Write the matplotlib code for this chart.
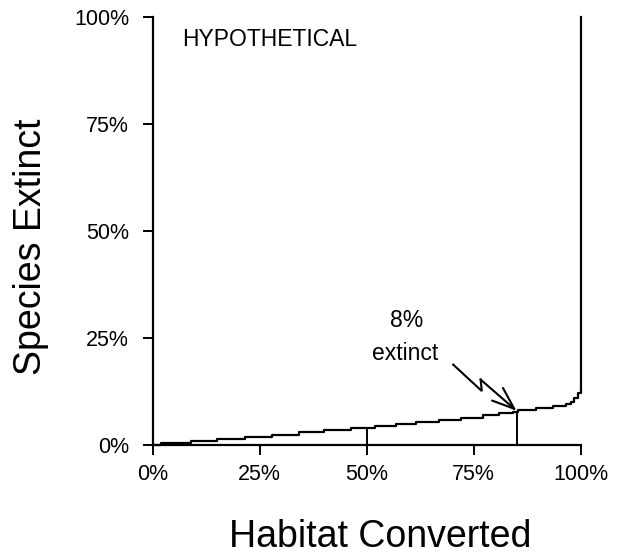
import matplotlib
matplotlib.use('Agg')
import matplotlib.pyplot as plt

plt.rcParams['font.family'] = ['Liberation Sans', 'DejaVu Sans']

# step curve: habitat converted (%) vs species extinct (%)
habitat = [0, 2.0, 9.0, 15.0, 21.5, 27.9, 34.1, 40.0, 46.3, 52.0, 56.8, 61.5,
           67.0, 72.0, 77.1, 81.0, 84.1, 85.3, 89.6, 93.5, 96.6, 97.7, 98.5,
           99.3, 100]
extinct = [0, 0.4, 0.9, 1.5, 1.9, 2.4, 3.0, 3.4, 4.0, 4.5, 4.9, 5.3,
           5.8, 6.4, 6.9, 7.4, 7.8, 8.1, 8.6, 9.1, 9.6, 10.1, 10.9,
           12.1, 100]

# reference drop lines
mark_x = [50, 85]
mark_y = [4.0, 8.0]

# lightning arrow: start, zig, zag, tip
arrow_x = [70.2, 76.9, 76.6, 85.0]
arrow_y = [18.8, 12.6, 15.3, 8.0]

ticks = [0, 25, 50, 75, 100]
tick_labels = ['0%', '25%', '50%', '75%', '100%']

fig = plt.figure(figsize=(6.17, 5.54), dpi=100)
ax = fig.add_axes([0.2475, 0.1968, 0.6937, 0.772])

ax.step(habitat, extinct, where='post', color='black', lw=1.6, clip_on=False)
ax.vlines(mark_x, 0, mark_y, color='black', lw=1.4)

ax.plot(arrow_x[:3], arrow_y[:3], color='black', lw=1.5, solid_joinstyle='miter')
ax.annotate('', xy=(arrow_x[3], arrow_y[3]), xytext=(arrow_x[2], arrow_y[2]),
            arrowprops=dict(arrowstyle='->,head_length=0.8,head_width=0.3',
                            mutation_scale=20, color='black', lw=1.5,
                            shrinkA=0, shrinkB=0))

ax.text(59.4, 27.7, '8%', ha='center', va='baseline', fontsize=16.5)
ax.text(59.0, 19.9, 'extinct', ha='center', va='baseline', fontsize=16.5)
ax.text(6.8, 94.7, 'HYPOTHETICAL', ha='left', va='center', fontsize=16.5)

ax.set_xlim(0, 100)
ax.set_ylim(0, 100)
ax.set_xticks(ticks)
ax.set_xticklabels(tick_labels)
ax.set_yticks(ticks)
ax.set_yticklabels(tick_labels)
ax.tick_params(axis='both', direction='out', length=7, width=1.4, labelsize=15.5)
ax.tick_params(axis='x', pad=6.5)
ax.tick_params(axis='y', pad=10)

for side in ['top', 'right']:
    ax.spines[side].set_visible(False)
for side in ['left', 'bottom']:
    ax.spines[side].set_linewidth(1.6)

fig.text(31 / 617, 1 - 247 / 554, 'Species Extinct', rotation=90,
         ha='center', va='center', fontsize=27)
fig.text(380 / 617, 1 - 546.7 / 554, 'Habitat Converted',
         ha='center', va='baseline', fontsize=27)

fig.savefig('out.png', dpi=100)
